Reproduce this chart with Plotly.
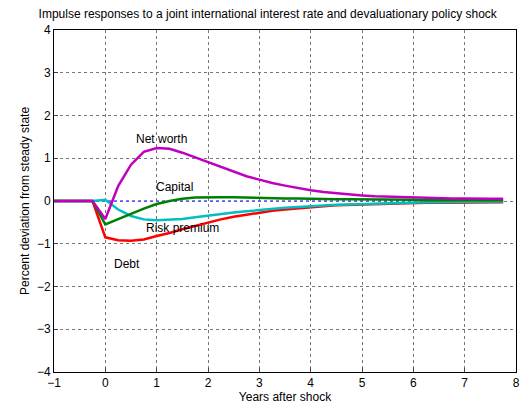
import plotly.graph_objects as go

# quarterly horizon, years after shock
years = [-1, -0.75, -0.5, -0.25, 0, 0.25, 0.5, 0.75, 1, 1.25, 1.5, 1.75, 2, 2.25, 2.5, 2.75,
         3, 3.25, 3.5, 3.75, 4, 4.25, 4.5, 4.75, 5, 5.25, 5.5, 5.75, 6, 6.25, 6.5, 6.75,
         7, 7.25, 7.5, 7.75]

net_worth = [0, 0, 0, 0, -0.42, 0.35, 0.85, 1.15, 1.24, 1.22, 1.13, 1.02, 0.9, 0.79, 0.68, 0.58,
             0.5, 0.42, 0.36, 0.3, 0.25, 0.21, 0.18, 0.15, 0.13, 0.11, 0.1, 0.09, 0.08, 0.07, 0.07, 0.06,
             0.06, 0.05, 0.05, 0.05]
capital = [0, 0, 0, 0, -0.55, -0.42, -0.3, -0.18, -0.07, 0.0, 0.05, 0.08, 0.09, 0.09, 0.09, 0.08,
           0.08, 0.07, 0.06, 0.06, 0.05, 0.05, 0.04, 0.04, 0.04, 0.03, 0.03, 0.03, 0.03, 0.02, 0.02, 0.02,
           0.02, 0.02, 0.02, 0.02]
risk_premium = [0, 0, 0, 0, 0.03, -0.2, -0.35, -0.43, -0.45, -0.44, -0.42, -0.38, -0.34, -0.3, -0.27, -0.24,
                -0.21, -0.18, -0.16, -0.14, -0.12, -0.1, -0.09, -0.08, -0.07, -0.06, -0.05, -0.04, -0.04, -0.03, -0.03, -0.02,
                -0.02, -0.02, -0.01, -0.01]
debt = [0, 0, 0, 0, -0.85, -0.92, -0.93, -0.9, -0.82, -0.75, -0.66, -0.58, -0.5, -0.43, -0.37, -0.32,
        -0.27, -0.23, -0.2, -0.17, -0.14, -0.12, -0.1, -0.09, -0.08, -0.07, -0.06, -0.05, -0.05, -0.04, -0.04, -0.04,
        -0.03, -0.03, -0.03, -0.03]
zero_line = [0] * len(years)

fig = go.Figure()
fig.add_trace(go.Scatter(x=years, y=zero_line, mode="lines", line=dict(color="#5555ff", width=1.5, dash="dot")))
for ys, col in [(debt, "#ff0000"), (risk_premium, "#00bfbf"), (capital, "#008000"), (net_worth, "#bf00bf")]:
    fig.add_trace(go.Scatter(x=years, y=ys, mode="lines", line=dict(color=col, width=2.5)))

labels = [("Net worth", 1.1, 1.45), ("Capital", 1.34, 0.33), ("Risk premium", 1.5, -0.63), ("Debt", 0.42, -1.47)]
for txt, lx, ly in labels:
    fig.add_annotation(x=lx, y=ly, text=txt, showarrow=False, font=dict(size=12, color="black"))

axis = dict(showgrid=True, gridcolor="#777", griddash="dot", gridwidth=1, zeroline=False,
            showline=True, linecolor="black", mirror=True, ticks="inside", ticklen=4,
            tickfont=dict(size=12, color="black"), automargin=False)
fig.update_layout(
    width=530, height=413, showlegend=False,
    paper_bgcolor="white", plot_bgcolor="white",
    font=dict(family="Liberation Sans, Arial", color="black"),
    title=dict(text="Impulse responses to a joint international interest rate and devaluationary policy shock",
               x=0.49, y=0.995, font=dict(size=12)),
    margin=dict(l=46, r=22, t=22, b=49),
    xaxis=dict(axis, range=[-1, 8], dtick=1, title=dict(text="Years after shock", font=dict(size=12), standoff=2)),
    yaxis=dict(axis, range=[-4, 4], dtick=1, title=dict(text="Percent deviation from steady state", font=dict(size=12), standoff=4)),
)
fig.write_html("out.html")
